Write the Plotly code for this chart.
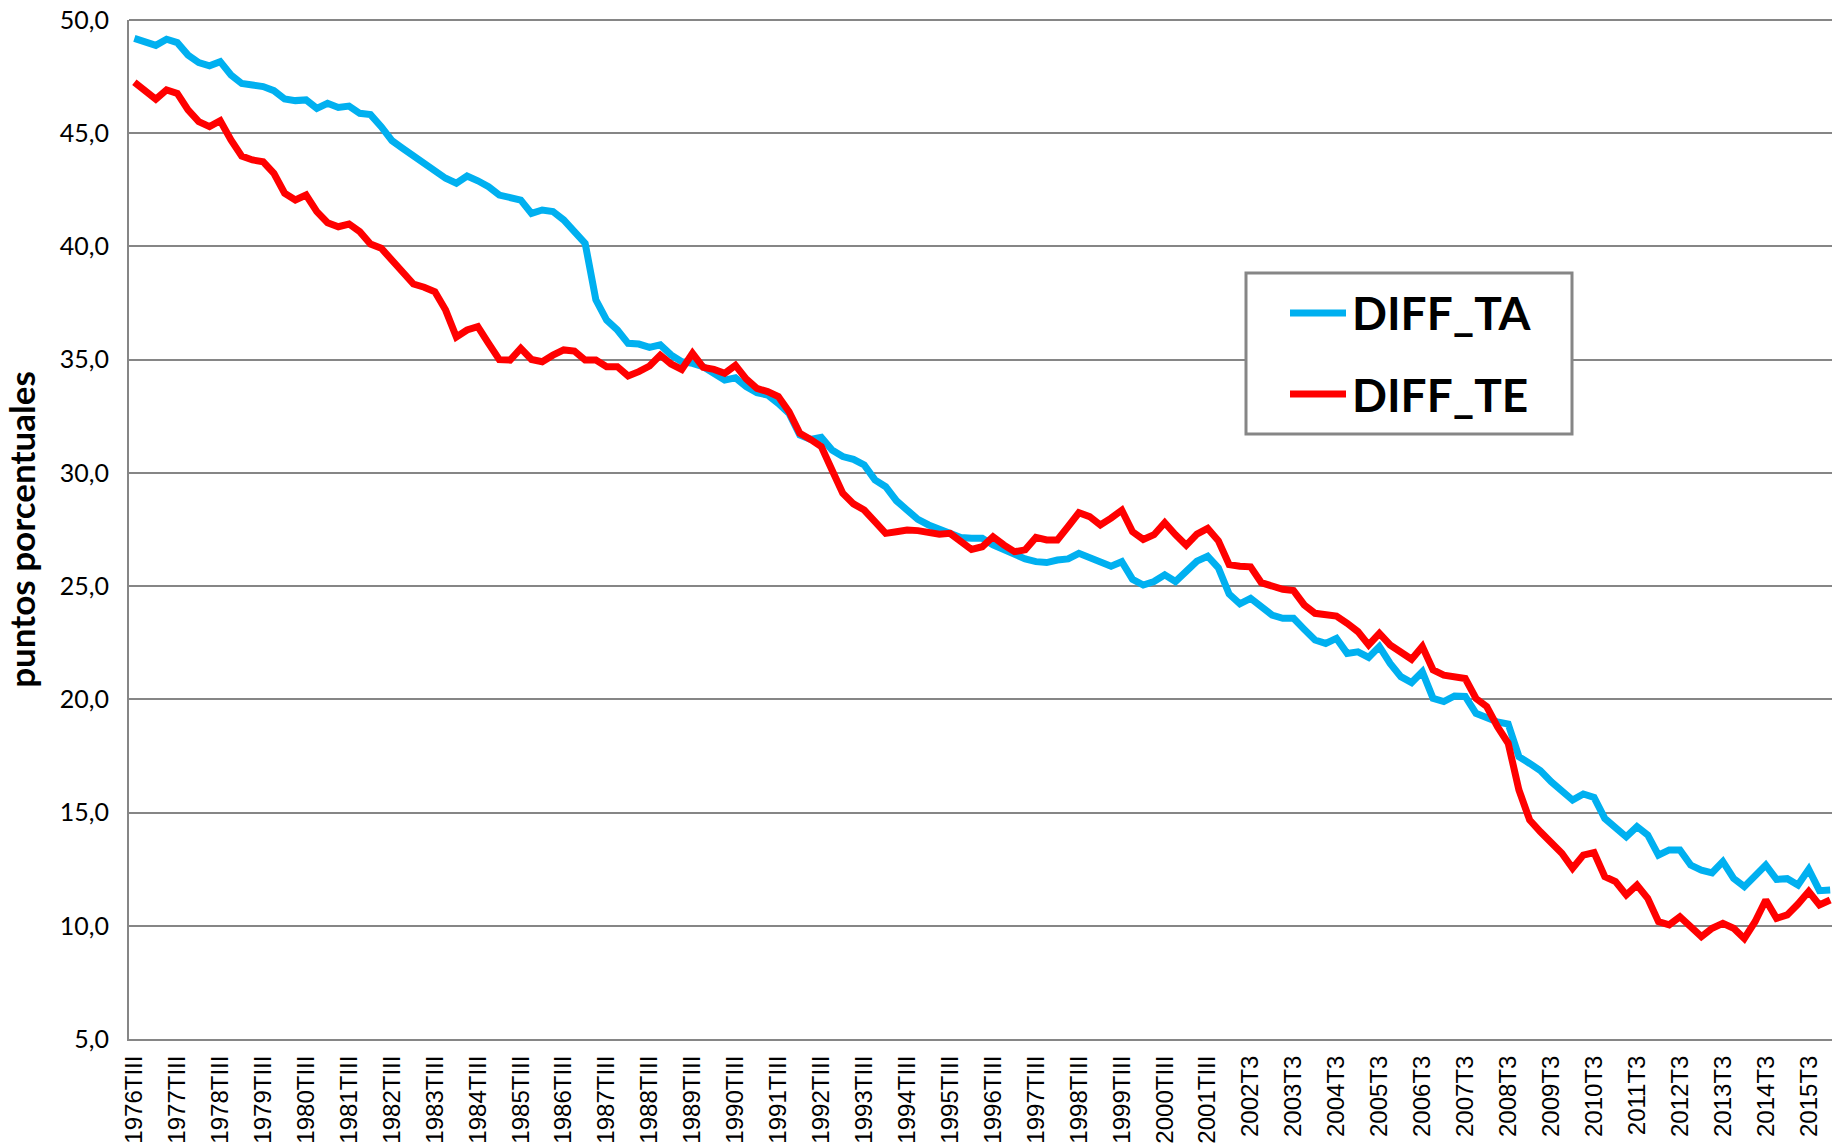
import plotly.graph_objects as go

# Quarterly series, 1976TIII .. 2016TI
DIFF_TA = [
    49.19, 49.03, 48.88, 49.15, 49.00, 48.45, 48.12, 47.98, 48.16, 47.57,
    47.20, 47.13, 47.06, 46.88, 46.51, 46.44, 46.47, 46.10, 46.32, 46.14,
    46.20, 45.88, 45.82, 45.29, 44.67, 44.33, 43.99, 43.68, 43.38, 43.01,
    42.79, 43.11, 42.90, 42.64, 42.27, 42.12, 42.05, 41.46, 41.61, 41.54,
    41.17, 40.65, 40.14, 37.64, 36.75, 36.31, 35.72, 35.69, 35.54, 35.65,
    35.21, 34.91, 34.84, 34.69, 34.40, 34.10, 34.20, 33.81, 33.54, 33.44,
    33.07, 32.63, 31.67, 31.48, 31.57, 31.01, 30.72, 30.60, 30.35, 29.69,
    29.39, 28.77, 28.36, 27.95, 27.70, 27.51, 27.40, 27.15, 27.11, 27.11,
    26.82, 26.59, 26.37, 26.20, 26.08, 26.04, 26.15, 26.20, 26.45, 26.26,
    26.08, 25.88, 26.08, 25.30, 25.05, 25.20, 25.50, 25.20, 25.65, 26.10,
    26.32, 25.80, 24.65, 24.22, 24.46, 24.09, 23.72, 23.58, 23.58, 23.09,
    22.62, 22.47, 22.69, 22.03, 22.10, 21.85, 22.33, 21.59, 21.00, 20.74,
    21.22, 20.04, 19.90, 20.15, 20.13, 19.38, 19.16, 19.00, 18.91, 17.47,
    17.17, 16.85, 16.36, 15.92, 15.55, 15.82, 15.67, 14.74, 14.38, 13.93,
    14.38, 14.01, 13.12, 13.35, 13.35, 12.68, 12.46, 12.34, 12.83, 12.09,
    11.73, 12.17, 12.68, 12.05, 12.08, 11.80, 12.49, 11.55, 11.58,
]

DIFF_TE = [
    47.25, 46.83, 46.50, 46.91, 46.76, 46.03, 45.51, 45.29, 45.55, 44.70,
    43.99, 43.82, 43.74, 43.23, 42.35, 42.05, 42.27, 41.54, 41.05, 40.87,
    40.99, 40.65, 40.11, 39.92, 39.37, 38.93, 38.34, 38.20, 38.00, 37.19,
    36.00, 36.31, 36.46, 35.72, 35.00, 34.98, 35.50, 35.01, 34.91, 35.20,
    35.43, 35.38, 34.98, 34.98, 34.69, 34.69, 34.28, 34.47, 34.72, 35.20,
    34.81, 34.57, 35.28, 34.66, 34.57, 34.40, 34.75, 34.15, 33.73, 33.59,
    33.37, 32.70, 31.75, 31.48, 31.16, 30.13, 29.10, 28.63, 28.36, 27.85,
    27.33, 27.40, 27.48, 27.45, 27.40, 27.29, 27.33, 26.96, 26.62, 26.74,
    27.18, 26.82, 26.52, 26.60, 27.15, 27.04, 27.04, 27.63, 28.24, 28.07,
    27.70, 28.00, 28.35, 27.40, 27.06, 27.27, 27.80, 27.27, 26.80, 27.30,
    27.55, 27.00, 25.95, 25.88, 25.85, 25.15, 25.00, 24.86, 24.80, 24.17,
    23.80, 23.72, 23.68, 23.36, 22.99, 22.40, 22.91, 22.40, 22.10, 21.77,
    22.33, 21.30, 21.07, 20.97, 20.92, 20.04, 19.68, 18.79, 18.06, 16.00,
    14.67, 14.15, 13.71, 13.20, 12.54, 13.12, 13.23, 12.17, 11.95, 11.36,
    11.80, 11.21, 10.18, 10.04, 10.40, 9.96, 9.52, 9.89, 10.11, 9.89,
    9.44, 10.18, 11.14, 10.33, 10.48, 10.96, 11.51, 10.92, 11.14,
]

quarter_index = list(range(len(DIFF_TA)))

tick_positions = list(range(0, 157, 4))
tick_labels = [
    "1976TIII", "1977TIII", "1978TIII", "1979TIII", "1980TIII", "1981TIII",
    "1982TIII", "1983TIII", "1984TIII", "1985TIII", "1986TIII", "1987TIII",
    "1988TIII", "1989TIII", "1990TIII", "1991TIII", "1992TIII", "1993TIII",
    "1994TIII", "1995TIII", "1996TIII", "1997TIII", "1998TIII", "1999TIII",
    "2000TIII", "2001TIII", "2002T3", "2003T3", "2004T3", "2005T3", "2006T3",
    "2007T3", "2008T3", "2009T3", "2010T3", "2011T3", "2012T3", "2013T3",
    "2014T3", "2015T3",
]

y_tick_values = [5, 10, 15, 20, 25, 30, 35, 40, 45, 50]

series_names = ["DIFF_TA", "DIFF_TE"]
series_colors = ["#00B0F0", "#FF0000"]

W, H = 1832, 1143
ML, MR, MT, MB = 129, 0, 20, 104
PW, PH = W - ML - MR, H - MT - MB


def px_x(px):
    return (px - ML) / PW


def px_y(py):
    return (H - MB - py) / PH


fig = go.Figure()
for name, vals, col in zip(series_names, [DIFF_TA, DIFF_TE], series_colors):
    fig.add_trace(go.Scatter(
        x=quarter_index, y=vals, mode="lines", name=name,
        line=dict(color=col, width=7), showlegend=False,
    ))

grey = "#868686"

# top gridline (at the edge of the plotting area)
shapes = [dict(type="line", xref="paper", yref="paper", x0=0, x1=1, y0=1, y1=1,
               line=dict(color=grey, width=2), layer="below")]

# Legend box (drawn)
shapes.append(dict(type="rect", xref="paper", yref="paper",
                   x0=px_x(1246), x1=px_x(1572), y0=px_y(434), y1=px_y(273),
                   line=dict(color=grey, width=3), fillcolor="white", layer="above"))
annotations = []
rows_y = [313, 394]
for name, col, ry in zip(series_names, series_colors, rows_y):
    shapes.append(dict(type="line", xref="paper", yref="paper",
                       x0=px_x(1290), x1=px_x(1346), y0=px_y(ry), y1=px_y(ry),
                       line=dict(color=col, width=7), layer="above"))
    annotations.append(dict(xref="paper", yref="paper", x=px_x(1350), y=px_y(ry),
                            xanchor="left", yanchor="middle", showarrow=False,
                            text=name,
                            font=dict(family="Lato", size=46, color="black", weight="bold")))

fig.update_layout(
    width=W, height=H,
    margin=dict(l=ML, r=MR, t=MT, b=MB, pad=0),
    paper_bgcolor="white", plot_bgcolor="white",
    separators=",.",
    shapes=shapes, annotations=annotations,
    xaxis=dict(
        range=[-0.5, 158.17], tickmode="array",
        tickvals=tick_positions, ticktext=tick_labels, tickangle=-90,
        showgrid=False, zeroline=False,
        showline=True, linecolor=grey, linewidth=2,
        ticks="outside", ticklen=5, tickcolor="rgba(0,0,0,0)",
        tickfont=dict(family="Liberation Sans", size=24, color="black"),
        ticklabeloverflow="allow",
        automargin=False,
    ),
    yaxis=dict(
        range=[5, 50], tickmode="array", tickvals=y_tick_values,
        tickformat=".1f",
        showgrid=True, gridcolor=grey, gridwidth=2, zeroline=False,
        showline=True, linecolor=grey, linewidth=2,
        ticks="outside", ticklen=13, tickcolor="rgba(0,0,0,0)",
        tickfont=dict(family="Lato", size=25, color="black"),
        ticklabeloverflow="allow",
        title=dict(text="puntos porcentuales", standoff=15,
                   font=dict(family="Lato", size=35, color="black", weight="bold")),
        automargin=False,
    ),
)

# remove the default page margin so the figure sits at the window's corner
fig.write_html("out.html", config={"displayModeBar": False},
               post_script="document.body.style.margin='0';")
